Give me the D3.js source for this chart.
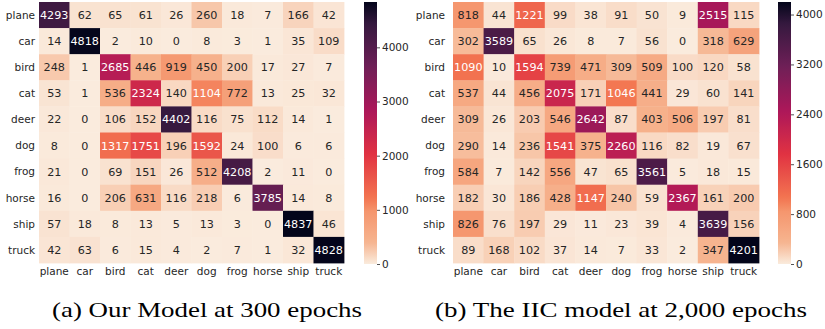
<!DOCTYPE html>
<html><head><meta charset="utf-8">
<script src="https://cdn.jsdelivr.net/npm/d3@7"></script>
<style>
body{margin:0;background:#fff;}
svg{display:block;}
</style></head>
<body>
<svg id="chart" width="825" height="329"></svg>
<script>
const classes = ["plane","car","bird","cat","deer","dog","frog","horse","ship","truck"];

const oursMatrix = [
  [4293,62,65,61,26,260,18,7,166,42],
  [14,4818,2,10,0,8,3,1,35,109],
  [248,1,2685,446,919,450,200,17,27,7],
  [53,1,536,2324,140,1104,772,13,25,32],
  [22,0,106,152,4402,116,75,112,14,1],
  [8,0,1317,1751,196,1592,24,100,6,6],
  [21,0,69,151,26,512,4208,2,11,0],
  [16,0,206,631,116,218,6,3785,14,8],
  [57,18,8,13,5,13,3,0,4837,46],
  [42,63,6,15,4,2,7,1,32,4828]
];
const iicMatrix = [
  [818,44,1221,99,38,91,50,9,2515,115],
  [302,3589,65,26,8,7,56,0,318,629],
  [1090,10,1594,739,471,309,509,100,120,58],
  [537,44,456,2075,171,1046,441,29,60,141],
  [309,26,203,546,2642,87,403,506,197,81],
  [290,14,236,1541,375,2260,116,82,19,67],
  [584,7,142,556,47,65,3561,5,18,15],
  [182,30,186,428,1147,240,59,2367,161,200],
  [826,76,197,29,11,23,39,4,3639,156],
  [89,168,102,37,14,7,33,2,347,4201]
];
const oursTicks = [0,1000,2000,3000,4000];
const iicTicks = [0,800,1600,2400,3200,4000];
const captions = ["(a) Our Model at 300 epochs", "(b) The IIC model at 2,000 epochs"];

// rocket colormap (seaborn) stops
const rocketStops = ["#03051a","#35193e","#701f57","#ad1759","#e13342","#f37651","#f5966e","#f6b48f","#faebdd"];
const rocketPos = [0,0.083,0.25,0.417,0.583,0.75,0.8,0.917,1];
function rocket(t){
  t = Math.max(0,Math.min(1,t));
  for(let i=1;i<rocketPos.length;i++){
    if(t<=rocketPos[i]){
      const u=(t-rocketPos[i-1])/(rocketPos[i]-rocketPos[i-1]);
      return d3.interpolateRgb(rocketStops[i-1],rocketStops[i])(u);
    }
  }
  return rocketStops[rocketStops.length-1];
}
function rocketR(t){ return rocket(1-t); }
function lum(c){
  const rgb=d3.rgb(c);
  const f=v=>{v/=255;return v<=0.03928?v/12.92:Math.pow((v+0.055)/1.055,2.4);};
  return 0.2126*f(rgb.r)+0.7152*f(rgb.g)+0.0722*f(rgb.b);
}

const svg = d3.select("#chart");
const defs = svg.append("defs");
const font = "'DejaVu Sans', sans-serif";
const txt = "#262626";

function panel(id, matrix, ticks, o){
  const vmax = d3.max(matrix.flat());
  const color = d3.scaleSequential(rocketR).domain([0, vmax]);
  const x = d3.scaleBand().domain(classes).range([o.x0, o.x1]);
  const y = d3.scaleBand().domain(classes).range([o.y0, o.y1]);
  const g = svg.append("g");
  const cells = [];
  matrix.forEach((row,i)=>row.forEach((v,j)=>cells.push({r:classes[i],c:classes[j],v})));
  g.selectAll("rect.cell").data(cells).join("rect")
    .attr("x",d=>x(d.c)).attr("y",d=>y(d.r))
    .attr("width",x.bandwidth()+0.4).attr("height",y.bandwidth()+0.4)
    .attr("fill",d=>color(d.v));
  g.selectAll("text.ann").data(cells).join("text")
    .attr("x",d=>x(d.c)+x.bandwidth()/2).attr("y",d=>y(d.r)+y.bandwidth()/2)
    .attr("dy","0.36em").attr("text-anchor","middle")
    .attr("font-family",font).attr("font-size",11.2)
    .attr("fill",d=>lum(color(d.v))>0.408?txt:"#ffffff")
    .text(d=>d.v);
  // y labels
  g.selectAll("text.yl").data(classes).join("text")
    .attr("x",o.ylx).attr("y",d=>y(d)+y.bandwidth()/2).attr("dy","0.36em")
    .attr("text-anchor","end").attr("font-family",font).attr("font-size",10.5)
    .attr("fill",txt).text(d=>d);
  // x labels
  g.selectAll("text.xl").data(classes).join("text")
    .attr("x",d=>x(d)+x.bandwidth()/2).attr("y",o.xly)
    .attr("text-anchor","middle").attr("font-family",font).attr("font-size",10.5)
    .attr("fill",txt).text(d=>d);
  // colorbar
  const cy = d3.scaleLinear().domain([0,vmax]).range([o.cb1, o.cb0]);
  const grad = defs.append("linearGradient").attr("id",id).attr("x1",0).attr("y1",1).attr("x2",0).attr("y2",0);
  d3.range(0,1.0001,0.02).forEach(t=>grad.append("stop").attr("offset",t).attr("stop-color",rocketR(t)));
  g.append("rect").attr("x",o.cbx).attr("y",o.cb0).attr("width",o.cbw).attr("height",o.cb1-o.cb0)
    .attr("fill",`url(#${id})`);
  const ax = g.append("g").attr("transform",`translate(${o.cbx+o.cbw},0)`)
    .call(d3.axisRight(cy).tickValues(ticks).tickSize(3).tickPadding(2).tickFormat(d3.format("d")));
  ax.select(".domain").remove();
  ax.selectAll("line").attr("stroke",txt).attr("stroke-width",0.8);
  ax.selectAll("text").attr("font-family",font).attr("font-size",10.5).attr("fill",txt);
  // caption
  svg.append("text").attr("x",o.capx).attr("y",317)
    .attr("font-family","'Liberation Serif', 'DejaVu Serif', serif").attr("font-size",22)
    .attr("textLength",o.capw).attr("lengthAdjust","spacingAndGlyphs")
    .attr("fill","#000").text(o.cap);
}

panel("g1", oursMatrix, oursTicks, {x0:39,x1:344,y0:2,y1:263,ylx:35,xly:275,cbx:364,cbw:13,cb0:2,cb1:264,capx:52,capw:310,cap:captions[0]});
panel("g2", iicMatrix, iicTicks, {x0:453,x1:759,y0:2,y1:263,ylx:445,xly:275,cbx:778,cbw:13,cb0:2,cb1:264,capx:435,capw:372,cap:captions[1]});
</script>
</body></html>
